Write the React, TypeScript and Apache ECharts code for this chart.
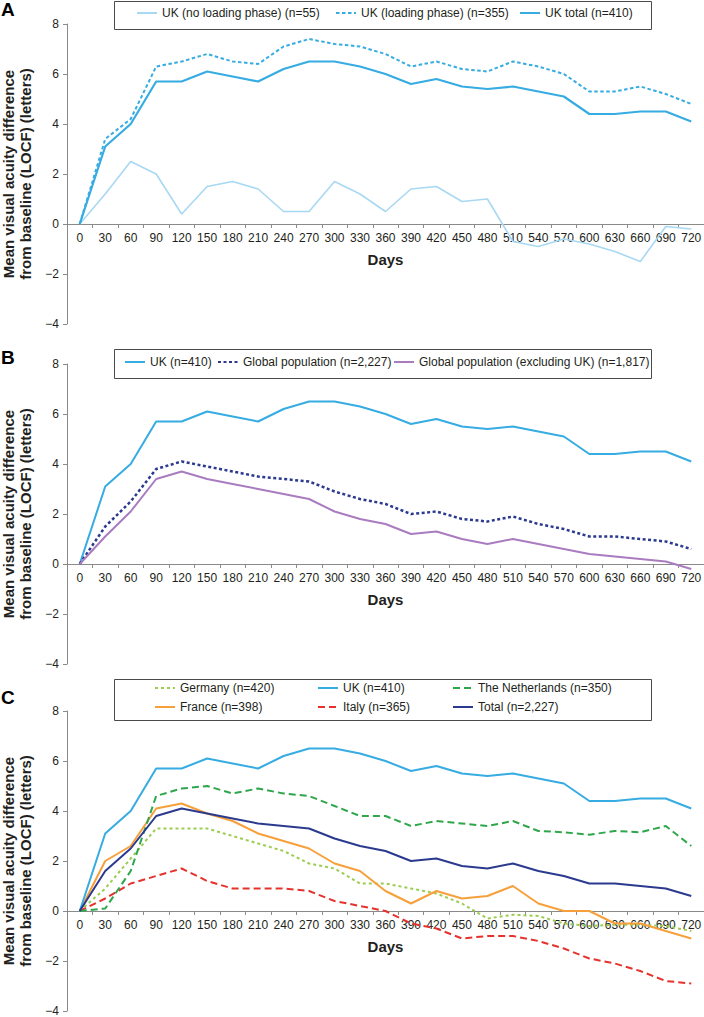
import React, { useEffect, useRef } from "react";
import * as echarts from "echarts";

const days = ["0","30","60","90","120","150","180","210","240","270","300","330","360","390","420","450","480","510","540","570","600","630","660","690","720"];

const ukNoLoading = [0, 1.2, 2.5, 2.0, 0.4, 1.5, 1.7, 1.4, 0.5, 0.5, 1.7, 1.2, 0.5, 1.4, 1.5, 0.9, 1.0, -0.7, -0.9, -0.6, -0.8, -1.1, -1.5, -0.1, -0.2];
const ukLoading = [0, 3.4, 4.2, 6.3, 6.5, 6.8, 6.5, 6.4, 7.1, 7.4, 7.2, 7.1, 6.8, 6.3, 6.5, 6.2, 6.1, 6.5, 6.3, 6.0, 5.3, 5.3, 5.5, 5.2, 4.8];
const ukTotal = [0, 3.1, 4.0, 5.7, 5.7, 6.1, 5.9, 5.7, 6.2, 6.5, 6.5, 6.3, 6.0, 5.6, 5.8, 5.5, 5.4, 5.5, 5.3, 5.1, 4.4, 4.4, 4.5, 4.5, 4.1];
const globalPop = [0, 1.5, 2.5, 3.8, 4.1, 3.9, 3.7, 3.5, 3.4, 3.3, 2.9, 2.6, 2.4, 2.0, 2.1, 1.8, 1.7, 1.9, 1.6, 1.4, 1.1, 1.1, 1.0, 0.9, 0.6];
const globalExUK = [0, 1.1, 2.1, 3.4, 3.7, 3.4, 3.2, 3.0, 2.8, 2.6, 2.1, 1.8, 1.6, 1.2, 1.3, 1.0, 0.8, 1.0, 0.8, 0.6, 0.4, 0.3, 0.2, 0.1, -0.2];
const germany = [0, 0.9, 2.1, 3.3, 3.3, 3.3, 3.0, 2.7, 2.4, 1.9, 1.7, 1.1, 1.1, 0.9, 0.7, 0.3, -0.3, -0.15, -0.2, -0.5, -0.6, -0.55, -0.55, -0.6, -0.8];
const france = [0, 2.0, 2.6, 4.1, 4.3, 3.9, 3.6, 3.1, 2.8, 2.5, 1.9, 1.6, 0.8, 0.3, 0.8, 0.5, 0.6, 1.0, 0.3, 0.0, 0.0, -0.5, -0.5, -0.8, -1.1];
const netherlands = [0, 0.1, 1.6, 4.6, 4.9, 5.0, 4.7, 4.9, 4.7, 4.6, 4.2, 3.8, 3.8, 3.4, 3.6, 3.5, 3.4, 3.6, 3.2, 3.15, 3.05, 3.2, 3.15, 3.4, 2.6];
const italy = [0, 0.5, 1.1, 1.4, 1.7, 1.2, 0.9, 0.9, 0.9, 0.8, 0.4, 0.2, 0.0, -0.5, -0.7, -1.1, -1.0, -1.0, -1.2, -1.5, -1.9, -2.1, -2.4, -2.8, -2.9];
const totalAll = [0, 1.6, 2.5, 3.8, 4.1, 3.9, 3.7, 3.5, 3.4, 3.3, 2.9, 2.6, 2.4, 2.0, 2.1, 1.8, 1.7, 1.9, 1.6, 1.4, 1.1, 1.1, 1.0, 0.9, 0.6];

const yTicks = { min: -4, max: 8, interval: 2 };
const yTitle = "Mean visual acuity difference\nfrom baseline (LOCF) (letters)";
const xTitle = "Days";
const panelLetters = ["A", "B", "C"];

const FONT = "'Liberation Sans', Arial, Helvetica, sans-serif";
const AXIS_COLOR = "#8a8a8a";
const TEXT_COLOR = "#231f20";

const C_UK = "#36ace2";
const C_UK_LIGHT = "#a8d8f2";
const C_NAVY = "#2b3a8f";
const C_PURPLE = "#a97cc0";
const C_GERMANY = "#9ccc4f";
const C_FRANCE = "#f7a03a";
const C_NL = "#2ea64b";
const C_ITALY = "#e5322d";

const GRID_H = 300;
const gridTops = [24, 364, 711];
const legendBoxes = [
  { y: 1, h: 28 },
  { y: 349, h: 29 },
  { y: 679, h: 41 },
];
const letterY = [9, 357, 697];

export default function App() {
  const ref = useRef<HTMLDivElement>(null);

  useEffect(() => {
    if (!ref.current) return;
    const chart = echarts.init(ref.current, null, { renderer: "svg" });

    const grids = gridTops.map((t) => ({
      left: 67,
      right: 0,
      top: t,
      height: GRID_H,
      containLabel: false,
      outerBoundsMode: "none",
    }));

    // distance in px from grid bottom (y = min) up to y = 0
    const zeroOffset = -((0 - yTicks.min) / (yTicks.max - yTicks.min)) * GRID_H;

    const xAxes = gridTops.map((_, i) => ({
      type: "category",
      gridIndex: i,
      position: "bottom",
      offset: zeroOffset,
      data: days,
      boundaryGap: true,
      name: xTitle,
      nameLocation: "middle",
      nameGap: 28,
      nameTextStyle: { fontFamily: FONT, fontSize: 15, fontWeight: "bold", color: TEXT_COLOR },
      axisLine: { onZero: false, lineStyle: { color: AXIS_COLOR, width: 1 } },
      axisTick: { show: true, length: 4, inside: false, lineStyle: { color: AXIS_COLOR } },
      axisLabel: { interval: 0, hideOverlap: false, fontFamily: FONT, fontSize: 12, color: TEXT_COLOR, margin: 8 },
      splitLine: { show: false },
    }));

    const yAxes = gridTops.map((_, i) => ({
      type: "value",
      gridIndex: i,
      min: yTicks.min,
      max: yTicks.max,
      interval: yTicks.interval,
      name: yTitle,
      nameLocation: "middle",
      nameRotate: 90,
      nameGap: 28,
      nameTextStyle: { fontFamily: FONT, fontSize: 15, fontWeight: "bold", color: TEXT_COLOR, lineHeight: 17, align: "center" },
      axisLine: { show: true, onZero: false, lineStyle: { color: AXIS_COLOR, width: 1 } },
      axisTick: { show: true, length: 4, lineStyle: { color: AXIS_COLOR } },
      axisLabel: {
        fontFamily: FONT,
        fontSize: 12,
        color: TEXT_COLOR,
        margin: 8,
        formatter: (v: number) => (v < 0 ? "\u2212" + Math.abs(v) : String(v)),
      },
      splitLine: { show: false },
    }));

    const line = (name: string, data: number[], idx: number, color: string, width: number, type: any) => ({
      type: "line",
      name,
      data,
      xAxisIndex: idx,
      yAxisIndex: idx,
      symbol: "none",
      lineStyle: { color, width, type },
      itemStyle: { color },
      emphasis: { disabled: true },
    });

    const series = [
      line("UK (no loading phase) (n=55)", ukNoLoading, 0, C_UK_LIGHT, 1.6, "solid"),
      line("UK (loading phase) (n=355)", ukLoading, 0, C_UK, 2, [3.5, 2.5]),
      line("UK total (n=410)", ukTotal, 0, C_UK, 2.2, "solid"),
      line("UK (n=410)", ukTotal, 1, C_UK, 2, "solid"),
      line("Global population (n=2,227)", globalPop, 1, C_NAVY, 2.5, [3, 2.5]),
      line("Global population (excluding UK) (n=1,817)", globalExUK, 1, C_PURPLE, 2, "solid"),
      line("Germany (n=420)", germany, 2, C_GERMANY, 2, [3, 3]),
      line("France (n=398)", france, 2, C_FRANCE, 2, "solid"),
      line("UK (n=410)", ukTotal, 2, C_UK, 2, "solid"),
      line("Italy (n=365)", italy, 2, C_ITALY, 2, [7, 4]),
      line("The Netherlands (n=350)", netherlands, 2, C_NL, 2, [7, 4]),
      line("Total (n=2,227)", totalAll, 2, C_NAVY, 2, "solid"),
    ];

    const lg = (name: string, left: number, textCenterY: number) => ({
      show: true,
      data: [name],
      left,
      top: textCenterY - 7,
      orient: "horizontal",
      itemWidth: 20,
      itemHeight: 14,
      itemGap: 0,
      padding: 0,
      selectedMode: false,
      itemStyle: { opacity: 0, borderWidth: 0, color: "transparent" },
      textStyle: { fontFamily: FONT, fontSize: 12, color: TEXT_COLOR },
    });

    const legends = [
      lg("UK (no loading phase) (n=55)", 136, 14),
      lg("UK (loading phase) (n=355)", 335, 14),
      lg("UK total (n=410)", 519, 14),
      lg("UK (n=410)", 124, 363),
      lg("Global population (n=2,227)", 217, 363),
      lg("Global population (excluding UK) (n=1,817)", 393, 363),
      lg("Germany (n=420)", 154, 689),
      lg("France (n=398)", 154, 708),
      lg("UK (n=410)", 317, 689),
      lg("Italy (n=365)", 317, 708),
      lg("The Netherlands (n=350)", 452, 689),
      lg("Total (n=2,227)", 452, 708),
    ];

    const graphic: any[] = [];
    legendBoxes.forEach((b) => {
      graphic.push({
        type: "rect",
        shape: { x: 114.5, y: b.y + 0.5, width: 537, height: b.h },
        style: { fill: "none", stroke: "#4a4a4a", lineWidth: 1 },
        z: 10,
      });
    });
    panelLetters.forEach((t, i) => {
      graphic.push({
        type: "text",
        x: 1,
        y: letterY[i],
        style: {
          text: t,
          fontFamily: FONT,
          fontSize: 19,
          fontWeight: "bold",
          fill: "#000",
          verticalAlign: "middle",
          align: "left",
        },
      });
    });

    chart.setOption({
      animation: false,
      backgroundColor: "#ffffff",
      grid: grids,
      xAxis: xAxes,
      yAxis: yAxes,
      legend: legends,
      series,
      graphic,
    });

    return () => chart.dispose();
  }, []);

  return (
    <div
      ref={ref}
      style={{ position: "absolute", left: 0, top: 0, width: 704, height: 1017, background: "#fff" }}
    />
  );
}
